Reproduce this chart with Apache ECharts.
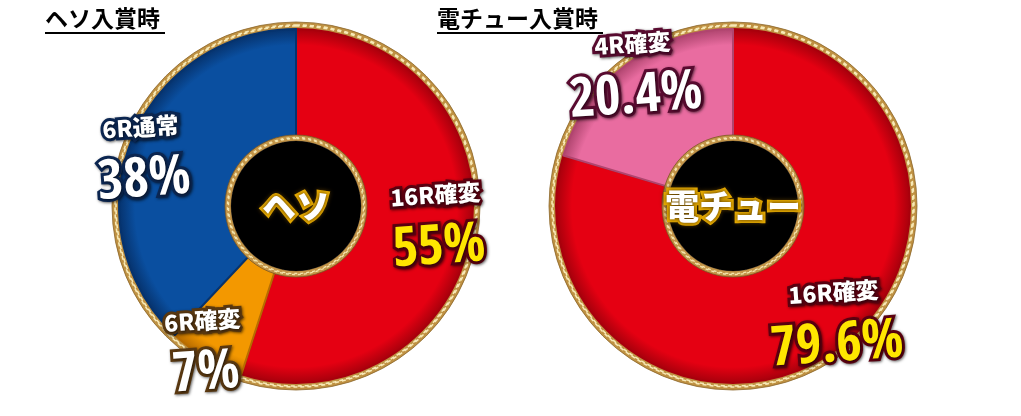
<!DOCTYPE html>
<html>
<head>
<meta charset="utf-8">
<script src="https://cdn.jsdelivr.net/npm/echarts@6/dist/echarts.min.js"></script>
<style>
html,body{margin:0;padding:0;background:#fff;}
#c{width:1021px;height:416px;}
</style>
</head>
<body>
<div id="c"></div>
<script>
// ---- data ----
const titles = ['ヘソ入賞時', '電チュー入賞時'];
const centerLabels = ['ヘソ', '電チュー'];
const hesoCategories = ['16R確変', '6R確変', '6R通常'];
const hesoValues = [55, 7, 38];
const denchuCategories = ['16R確変', '4R確変'];
const denchuValues = [79.6, 20.4];

// ---- font probing: pick the bold face whose width best fits the tall narrow numerals ----
const BIG_SIZE = 55;
const TARGET_W = 114;
const probe = document.createElement('canvas').getContext('2d');
function w(font) { probe.font = font; return probe.measureText('79.6%').width; }
const candidates = [
  { weight: 'bold', fam: "'Liberation Sans Narrow'" },
  { weight: 'bold', fam: "'DejaVu Sans Condensed'" },
  { weight: 'bold', fam: "'Roboto Condensed'" },
  { weight: 'bold', fam: "'Open Sans Condensed'" },
  { weight: 'bold ultra-condensed', fam: "'Noto Sans'" },
  { weight: 'bold extra-condensed', fam: "'Noto Sans'" },
  { weight: 'bold condensed', fam: "'Noto Sans'" },
  { weight: 'bold condensed', fam: "'Open Sans'" },
  { weight: 'bold condensed', fam: "'Roboto'" },
  { weight: 'bold', fam: "'Roboto'" }
];
let best = { weight: 'bold', fam: "'Roboto'" }, bestD = Infinity;
candidates.forEach(c => {
  const a = w(c.weight + ' ' + BIG_SIZE + 'px ' + c.fam + ', monospace');
  const b = w(c.weight + ' ' + BIG_SIZE + 'px monospace');
  const a2 = w(c.weight + ' ' + BIG_SIZE + 'px ' + c.fam + ', serif');
  const b2 = w(c.weight + ' ' + BIG_SIZE + 'px serif');
  if (a !== b || a2 !== b2) {
    const d = Math.abs(a - TARGET_W);
    if (d < bestD) { bestD = d; best = c; }
  }
});

// ---- styles ----
const JP = "'Noto Sans CJK JP', sans-serif";
const palette = {
  '16R確変': { fill: '#e50012', dark: '#a8000c', stroke: '#5c0010', big: '#ffe600' },
  '6R確変': { fill: '#f39800', dark: '#b86c00', stroke: '#5a3810', big: '#ffffff' },
  '6R通常': { fill: '#0a4fa0', dark: '#06336e', stroke: '#0b2652', big: '#ffffff' },
  '4R確変': { fill: '#e96ca0', dark: '#b0456f', stroke: '#5a0a30', big: '#ffffff' }
};
const R_OUT = 184, R_FILL = 177, R_HOLE = 71, R_BLACK = 65;
const centers = [[296, 206], [733, 206]];
// label nudges (px) from the default inside-label anchor
const labelOffsets = [[[17, 9], [-30, 43], [-36, 4]], [[26, 26], [-21, -24]]];

function buildChart(idx, cats, vals) {
  const c = centers[idx];
  const data = cats.map((name, i) => {
    const p = palette[name];
    return {
      name: name,
      value: vals[i],
      itemStyle: {
        color: {
          type: 'radial', x: c[0], y: c[1], r: R_FILL, global: true,
          colorStops: [
            { offset: 0, color: p.fill },
            { offset: 0.91, color: p.fill },
            { offset: 1, color: p.dark }
          ]
        },
        borderColor: p.dark,
        borderWidth: 2
      },
      label: {
        offset: labelOffsets[idx][i],
        rich: {
          s: {
            fontFamily: JP, fontWeight: 900, fontSize: 23, color: '#fff',
            textBorderColor: p.stroke, textBorderWidth: 6, lineHeight: 31,
            textShadowColor: 'rgba(0,0,0,0.6)', textShadowBlur: 3, textShadowOffsetX: 1, textShadowOffsetY: 1
          },
          b: {
            fontFamily: best.fam + ', sans-serif', fontWeight: best.weight, fontSize: BIG_SIZE, color: p.big,
            textBorderColor: p.stroke, textBorderWidth: 6, lineHeight: 78,
            textShadowColor: 'rgba(0,0,0,0.6)', textShadowBlur: 3, textShadowOffsetX: 1, textShadowOffsetY: 1
          }
        }
      }
    };
  });
  const series = [];
  series.push({
    type: 'pie', silent: true, center: c, radius: [R_FILL - 2, R_OUT],
    label: { show: false }, labelLine: { show: false },
    itemStyle: { color: '#bf9142', borderColor: '#8a6428', borderWidth: 0.8 },
    data: [{ value: 1, name: 'ring' }]
  });
  series.push({
    type: 'pie', silent: true, center: c, radius: [R_OUT - 4, R_OUT - 3],
    label: { show: false }, labelLine: { show: false },
    itemStyle: { color: 'rgba(0,0,0,0)', borderColor: '#f7e9b6', borderWidth: 1.6, borderType: [4, 3] },
    data: [{ value: 1, name: 'ring2' }]
  });
  series.push({
    type: 'pie', silent: true, center: c, radius: [R_HOLE - 2, R_FILL],
    startAngle: 90, clockwise: true, avoidLabelOverlap: false,
    label: {
      show: true, position: 'inside', rotate: 4,
      formatter: p => '{s|' + p.name + '}\n{b|' + p.value + '%}'
    },
    labelLine: { show: false },
    data: data,
    z: 3
  });
  series.push({
    type: 'pie', silent: true, center: c, radius: [R_BLACK, R_HOLE],
    label: { show: false }, labelLine: { show: false },
    itemStyle: { color: '#c29448', borderColor: '#7a5522', borderWidth: 0.8 },
    data: [{ value: 1, name: 'iring' }], z: 4
  });
  series.push({
    type: 'pie', silent: true, center: c, radius: [R_HOLE - 3.5, R_HOLE - 2.5],
    label: { show: false }, labelLine: { show: false },
    itemStyle: { color: 'rgba(0,0,0,0)', borderColor: '#f4e4ad', borderWidth: 1.3, borderType: [3, 3] },
    data: [{ value: 1, name: 'iring2' }], z: 4
  });
  series.push({
    type: 'pie', silent: true, center: c, radius: [0, R_BLACK],
    labelLine: { show: false },
    itemStyle: { color: '#000' },
    label: {
      show: true, position: 'center',
      formatter: () => '{c|' + centerLabels[idx] + '}',
      rich: {
        c: {
          fontFamily: JP, fontWeight: 900, fontSize: 34, color: '#fff',
          textBorderColor: '#e6aa00', textBorderWidth: 6,
          textShadowColor: '#4a3000', textShadowBlur: 4
        }
      }
    },
    data: [{ value: 1, name: centerLabels[idx] }], z: 5
  });
  return series;
}

const chart = echarts.init(document.getElementById('c'));
chart.setOption({
  animation: false,
  backgroundColor: '#fff',
  title: titles.map((t, i) => ({
    text: t, left: [45, 437][i], top: 7, padding: 0,
    textStyle: { fontFamily: JP, fontSize: 23, fontWeight: 'bold', color: '#000' }
  })),
  graphic: [
    { type: 'rect', shape: { x: 45, y: 32, width: 120, height: 2 }, style: { fill: '#000' } },
    { type: 'rect', shape: { x: 437, y: 32, width: 166, height: 2 }, style: { fill: '#000' } }
  ],
  series: buildChart(0, hesoCategories, hesoValues).concat(buildChart(1, denchuCategories, denchuValues))
});
</script>
</body>
</html>
